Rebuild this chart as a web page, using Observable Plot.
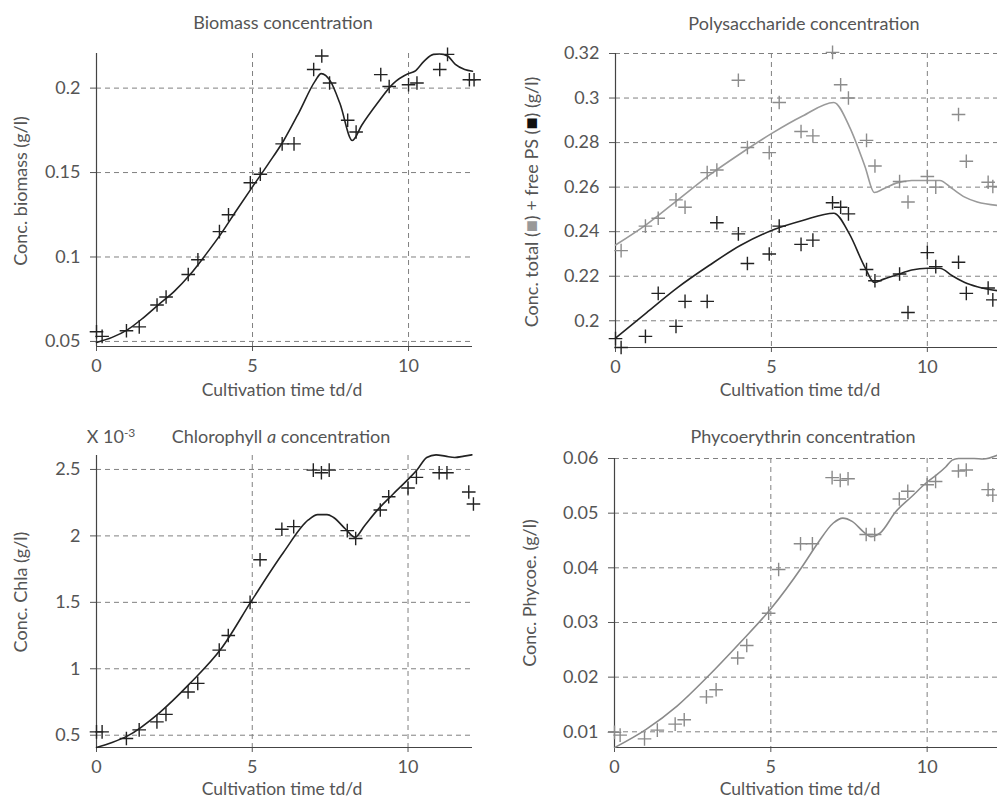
<!DOCTYPE html>
<html><head><meta charset="utf-8">
<script src="https://cdn.jsdelivr.net/npm/d3@7"></script>
<script src="https://cdn.jsdelivr.net/npm/@observablehq/plot@0.6"></script>
<style>
body{margin:0;background:#fff;}
#root{position:relative;width:997px;height:800px;overflow:hidden;font-family:Lato,"Liberation Sans",sans-serif;color:#555;}
.panel{position:absolute;}
.lbl{position:absolute;white-space:nowrap;font-size:18px;transform:translate(-50%,-50%);line-height:1;}
.xl{font-size:17.5px;}
.ylbl{position:absolute;white-space:nowrap;font-size:18px;transform:translate(-50%,-50%) rotate(-90deg);line-height:1;}
.sq{font-size:20px;}
sup{font-size:12px;vertical-align:6px;}
</style></head><body><div id="root"></div>
<script>
// ---- measured data (cultivation day) ----
const sampleDays = [0, 0.18, 0.96, 1.37, 1.94, 2.23, 2.94, 3.25, 3.94, 4.23, 4.93, 5.25, 5.95, 6.33, 6.96, 7.22, 7.47, 8.05, 8.32, 9.11, 9.38, 10.0, 10.27, 11.0, 11.25, 11.95, 12.1];
const biomass = [0.0557, 0.053, 0.0563, 0.0586, 0.0716, 0.0763, 0.0896, 0.0984, 0.115, 0.125, 0.144, 0.149, 0.167, 0.167, 0.211, 0.219, 0.203, 0.181, 0.174, 0.208, 0.201, 0.202, 0.203, 0.211, 0.220, 0.205, 0.205];
const psTotal = [null, 0.2315, 0.2425, 0.246, 0.2543, 0.251, 0.2665, 0.2677, 0.308, 0.2778, 0.2755, 0.298, 0.285, 0.283, 0.3205, 0.306, 0.300, 0.281, 0.2695, 0.2625, 0.2533, 0.2648, 0.26, 0.2926, 0.2716, 0.2622, 0.2603];
const psFree = [0.192, 0.188, 0.193, 0.2123, 0.1975, 0.2087, 0.2087, 0.244, 0.239, 0.2257, 0.23, 0.2425, 0.2343, 0.2362, 0.253, 0.251, 0.248, 0.223, 0.218, 0.221, 0.2037, 0.2306, 0.2243, 0.2263, 0.2123, 0.2147, 0.2094];
const chla = [0.525, 0.525, 0.475, 0.54, 0.60, 0.657, 0.825, 0.89, 1.14, 1.25, 1.50, 1.82, 2.05, 2.07, 2.495, 2.475, 2.495, 2.04, 1.98, 2.195, 2.295, 2.36, 2.44, 2.475, 2.475, 2.33, 2.24];
const phycoe = [0.0099, 0.0094, 0.0087, 0.0103, 0.0114, 0.0122, 0.0164, 0.0177, 0.0235, 0.0258, 0.0317, 0.0397, 0.0444, 0.0444, 0.0565, 0.056, 0.0563, 0.0461, 0.0461, 0.0526, 0.054, 0.0552, 0.0558, 0.0577, 0.0579, 0.0543, 0.0533];

// ---- model curves ----
const biomassModelT = [0, 0.5, 1, 1.5, 2, 2.5, 3, 3.5, 4, 4.5, 5, 5.5, 6, 6.5, 7, 7.2, 7.5, 7.8, 8.2, 8.5, 9, 9.5, 10, 10.2, 10.5, 10.8, 11, 11.25, 11.5, 11.8, 12.05];
const biomassModel = [0.0494, 0.0524, 0.057, 0.064, 0.072, 0.0798, 0.0896, 0.1014, 0.114, 0.128, 0.1416, 0.155, 0.169, 0.186, 0.204, 0.2086, 0.204, 0.191, 0.169, 0.178, 0.191, 0.2025, 0.2086, 0.210, 0.216, 0.220, 0.2202, 0.219, 0.214, 0.211, 0.210];
const psModelT = [0, 1, 2, 3, 4, 5, 6, 7, 7.5, 8, 8.3, 8.6, 9, 9.5, 10, 10.4, 10.8, 11.2, 11.6, 12.25];
const psTotalModel = [0.234, 0.2433, 0.2543, 0.2653, 0.275, 0.284, 0.2919, 0.298, 0.2872, 0.2693, 0.2576, 0.2593, 0.2618, 0.263, 0.263, 0.263, 0.2593, 0.2555, 0.2533, 0.2518];
const psFreeModel = [0.1922, 0.2037, 0.215, 0.2248, 0.2338, 0.2405, 0.245, 0.2483, 0.239, 0.224, 0.2172, 0.2187, 0.2205, 0.2228, 0.2236, 0.2236, 0.2202, 0.2172, 0.2153, 0.2135];
const chlaModelT = [0, 0.5, 1, 2, 3, 4, 5, 6, 6.8, 7.1, 7.4, 7.6, 8, 8.3, 8.6, 9, 9.5, 10, 10.3, 10.6, 10.9, 11.2, 11.5, 11.8, 12.05];
const chlaModel = [0.4075, 0.445, 0.495, 0.665, 0.89, 1.15, 1.52, 1.875, 2.12, 2.16, 2.16, 2.14, 2.05, 1.99, 2.075, 2.19, 2.31, 2.425, 2.5, 2.59, 2.61, 2.60, 2.59, 2.60, 2.61];
const phycoeModelT = [0, 1, 2, 3, 4, 5, 6, 6.5, 7, 7.3, 7.6, 8, 8.2, 8.5, 9, 9.5, 10, 10.3, 10.6, 10.8, 11, 11.5, 11.8, 12.25];
const phycoeModel = [0.0071, 0.0104, 0.0147, 0.0202, 0.0262, 0.0325, 0.0402, 0.0445, 0.0482, 0.0491, 0.0485, 0.0464, 0.0457, 0.0464, 0.0503, 0.053, 0.0557, 0.057, 0.0585, 0.0597, 0.060, 0.060, 0.0599, 0.0606];

// ---- ticks ----
const xTicks = [0, 5, 10];
const biomassTicks = [0.05, 0.1, 0.15, 0.2];
const psTicks = [0.2, 0.22, 0.24, 0.26, 0.28, 0.3, 0.32];
const chlaTicks = [0.5, 1, 1.5, 2, 2.5];
const phycoeTicks = [0.01, 0.02, 0.03, 0.04, 0.05, 0.06];

const zip = (xs, ys) => xs.map((x, i) => ({x, y: ys[i]}));

const thinPlus = {
  draw(context, size) {
    const h = Math.sqrt(size / Math.PI);
    context.moveTo(-h, 0); context.lineTo(h, 0);
    context.moveTo(0, -h); context.lineTo(0, h);
  }
};

const root = document.getElementById("root");

function panel(cfg) {
  const marks = [
    Plot.gridY(cfg.yTicks, {stroke: "#808080", strokeOpacity: 1, strokeWidth: 1, strokeDasharray: "5,4"}),
    Plot.gridX([5, 10], {stroke: "#808080", strokeOpacity: 1, strokeWidth: 1, strokeDasharray: "5,4"}),
    Plot.axisY(cfg.yTicks, {tickFormat: d => String(d), tickSize: 6, tickPadding: 10, label: null}),
    Plot.axisX(xTicks, {tickFormat: d => String(d), tickSize: 5, tickPadding: 8, label: null}),
    Plot.ruleX([0], {stroke: "#444", strokeWidth: 1.2}),
    Plot.ruleY([cfg.yDomain[0]], {stroke: "#444", strokeWidth: 1.2})
  ];
  for (const s of cfg.series) {
    marks.push(Plot.line(zip(s.modelT, s.model), {x: "x", y: "y", stroke: s.lineColor, strokeWidth: 1.6, curve: "monotone-x"}));
    marks.push(Plot.dot(zip(sampleDays, s.data), {x: "x", y: "y", symbol: thinPlus, r: 6.8, fill: "none", stroke: s.dotColor, strokeWidth: 1.4}));
  }
  const svg = Plot.plot({
    width: cfg.width, height: 400,
    marginLeft: cfg.marginLeft, marginRight: cfg.marginRight,
    marginTop: cfg.marginTop, marginBottom: cfg.marginBottom,
    x: {domain: cfg.xDomain},
    y: {domain: cfg.yDomain},
    style: {fontSize: "18px", fontFamily: "Lato, 'Liberation Sans', sans-serif", color: "#555", background: "transparent", overflow: "visible"},
    marks
  });
  const wrap = document.createElement("div");
  wrap.className = "panel";
  wrap.style.left = cfg.left + "px";
  wrap.style.top = cfg.top + "px";
  wrap.appendChild(svg);
  root.appendChild(wrap);
}

function label(html, x, y, cls = "lbl") {
  const d = document.createElement("div");
  d.className = cls;
  d.style.left = x + "px";
  d.style.top = y + "px";
  d.innerHTML = html;
  root.appendChild(d);
}

panel({left: 0, top: 0, width: 497, marginLeft: 96, marginRight: 25, marginTop: 53, marginBottom: 54,
  xDomain: [0, 12.05], yDomain: [0.047, 0.2205], yTicks: biomassTicks,
  series: [{modelT: biomassModelT, model: biomassModel, data: biomass, lineColor: "#222", dotColor: "#222"}]});
panel({left: 497, top: 0, width: 500, marginLeft: 118, marginRight: 0, marginTop: 53, marginBottom: 53,
  xDomain: [0, 12.25], yDomain: [0.188, 0.32], yTicks: psTicks,
  series: [
    {modelT: psModelT, model: psTotalModel, data: psTotal, lineColor: "#9a9a9a", dotColor: "#8c8c8c"},
    {modelT: psModelT, model: psFreeModel, data: psFree, lineColor: "#222", dotColor: "#222"}
  ]});
panel({left: 0, top: 400, width: 497, marginLeft: 96, marginRight: 25, marginTop: 55, marginBottom: 53,
  xDomain: [0, 12.07], yDomain: [0.4075, 2.605], yTicks: chlaTicks,
  series: [{modelT: chlaModelT, model: chlaModel, data: chla, lineColor: "#222", dotColor: "#222"}]});
panel({left: 497, top: 400, width: 500, marginLeft: 117, marginRight: 0, marginTop: 58, marginBottom: 53,
  xDomain: [0, 12.25], yDomain: [0.00713, 0.06], yTicks: phycoeTicks,
  series: [{modelT: phycoeModelT, model: phycoeModel, data: phycoe, lineColor: "#8a8a8a", dotColor: "#8a8a8a"}]});

// titles
label("Biomass concentration", 283, 22);
label("Polysaccharide concentration", 804, 23);
label("X 10<sup>-3</sup>", 111, 436);
label("Chlorophyll <i>a</i> concentration", 281, 436);
label("Phycoerythrin concentration", 803, 436);
// x labels
label("Cultivation time td/d", 282, 390, "lbl xl");
label("Cultivation time td/d", 800, 390, "lbl xl");
label("Cultivation time td/d", 282, 789, "lbl xl");
label("Cultivation time td/d", 800, 789, "lbl xl");
// y labels
label("Conc. biomass (g/l)", 20, 191, "ylbl");
label("Conc. total (<span class='sq' style='color:#999'>&#9632;</span>) + free PS (<span class='sq' style='color:#111'>&#9632;</span>) (g/l)", 530, 202, "ylbl");
label("Conc. Chla (g/l)", 20, 592, "ylbl");
label("Conc. Phycoe. (g/l)", 529, 593, "ylbl");
</script></body></html>
